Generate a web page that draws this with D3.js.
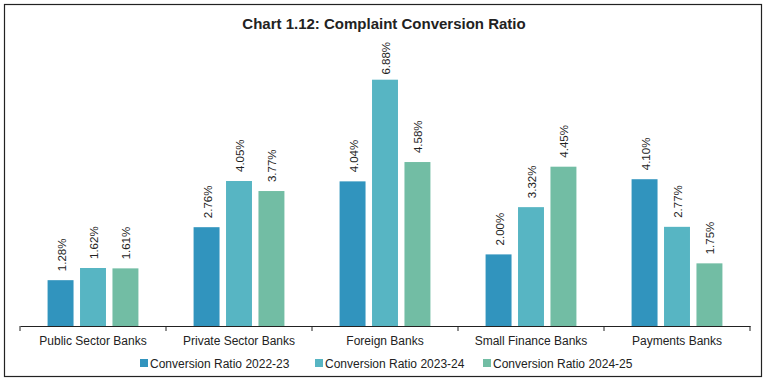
<!DOCTYPE html>
<html>
<head>
<meta charset="utf-8">
<script src="https://cdn.jsdelivr.net/npm/d3@7"></script>
<style>
html,body{margin:0;padding:0;background:#fff;}
svg{display:block;font-family:"Liberation Sans",Arial,sans-serif;}
</style>
</head>
<body>
<svg id="chart" width="771" height="381"></svg>
<script>
const title = "Chart 1.12: Complaint Conversion Ratio";
const categories = ["Public Sector Banks","Private Sector Banks","Foreign Banks","Small Finance Banks","Payments Banks"];
const seriesNames = ["Conversion Ratio 2022-23","Conversion Ratio 2023-24","Conversion Ratio 2024-25"];
const ratio2022 = [1.28, 2.76, 4.04, 2.00, 4.10];
const ratio2023 = [1.62, 4.05, 6.88, 3.32, 2.77];
const ratio2024 = [1.61, 3.77, 4.58, 4.45, 1.75];
const colors = ["#3194BE", "#57B5C3", "#72BDA4"];

const seriesValues = [ratio2022, ratio2023, ratio2024];
const data = categories.map((c, i) => ({cat: c, vals: seriesNames.map((s, j) => ({s, j, v: seriesValues[j][i]}))}));

const svg = d3.select("#chart");
svg.append("rect").attr("x", 4.5).attr("y", 4.5).attr("width", 757).attr("height", 372)
  .attr("fill", "#fff").attr("stroke", "#222").attr("stroke-width", 1.2);

svg.append("text").attr("x", 384).attr("y", 29).attr("text-anchor", "middle")
  .attr("font-weight", "bold").attr("font-size", 15).attr("fill", "#222").text(title);

const x0 = d3.scaleBand().domain(categories).range([20, 750]).padding(0);
const x1 = d3.scaleBand().domain(seriesNames).range([0, x0.bandwidth()]).paddingInner(0.2).paddingOuter(0.85);
const y = d3.scaleLinear().domain([0, 8]).range([326, 39.6]);

const g = svg.append("g");
const groups = g.selectAll("g.grp").data(data).join("g").attr("class", "grp")
  .attr("transform", d => `translate(${x0(d.cat)},0)`);

groups.selectAll("rect").data(d => d.vals).join("rect")
  .attr("x", d => x1(d.s)).attr("width", x1.bandwidth())
  .attr("y", d => y(d.v)).attr("height", d => y(0) - y(d.v))
  .attr("fill", d => colors[d.j]);

groups.selectAll("text.lbl").data(d => d.vals).join("text").attr("class", "lbl")
  .attr("font-size", 11.5).attr("fill", "#222")
  .text(d => d.v.toFixed(2) + "%")
  .each(function(d) {
    const len = this.getComputedTextLength();
    let yEnd = y(d.v) - 9;
    if (yEnd - len < 42) yEnd = Math.min(y(d.v) - 4, 42 + len);
    const cx = x1(d.s) + x1.bandwidth() / 2 + 1;
    d3.select(this).attr("transform", `translate(${cx},${yEnd}) rotate(-90)`)
      .attr("dy", "0.35em");
  });

const axis = d3.axisBottom(x0).tickSize(0).tickFormat("");
const ax = svg.append("g").attr("transform", "translate(0,326)").call(axis);
ax.select(".domain").attr("stroke", "#222").attr("stroke-width", 1.2);
const bounds = categories.map(c => x0(c)).concat([x0.range()[1]]);
ax.selectAll("line.bt").data(bounds).join("line").attr("class", "bt")
  .attr("x1", d => d).attr("x2", d => d).attr("y1", 0).attr("y2", 5)
  .attr("stroke", "#222").attr("stroke-width", 1);

svg.append("g").selectAll("text").data(categories).join("text")
  .attr("x", d => x0(d) + x0.bandwidth() / 2).attr("y", 345)
  .attr("text-anchor", "middle").attr("font-size", 12).attr("fill", "#222").text(d => d);

const legX = [140, 315, 483];
const leg = svg.append("g").selectAll("g").data(seriesNames).join("g")
  .attr("transform", (d, i) => `translate(${legX[i]},359)`);
leg.append("rect").attr("width", 8).attr("height", 8).attr("fill", (d, i) => colors[i]);
leg.append("text").attr("x", 10).attr("y", 8.5).attr("font-size", 12).attr("fill", "#222").text(d => d);
</script>
</body>
</html>
